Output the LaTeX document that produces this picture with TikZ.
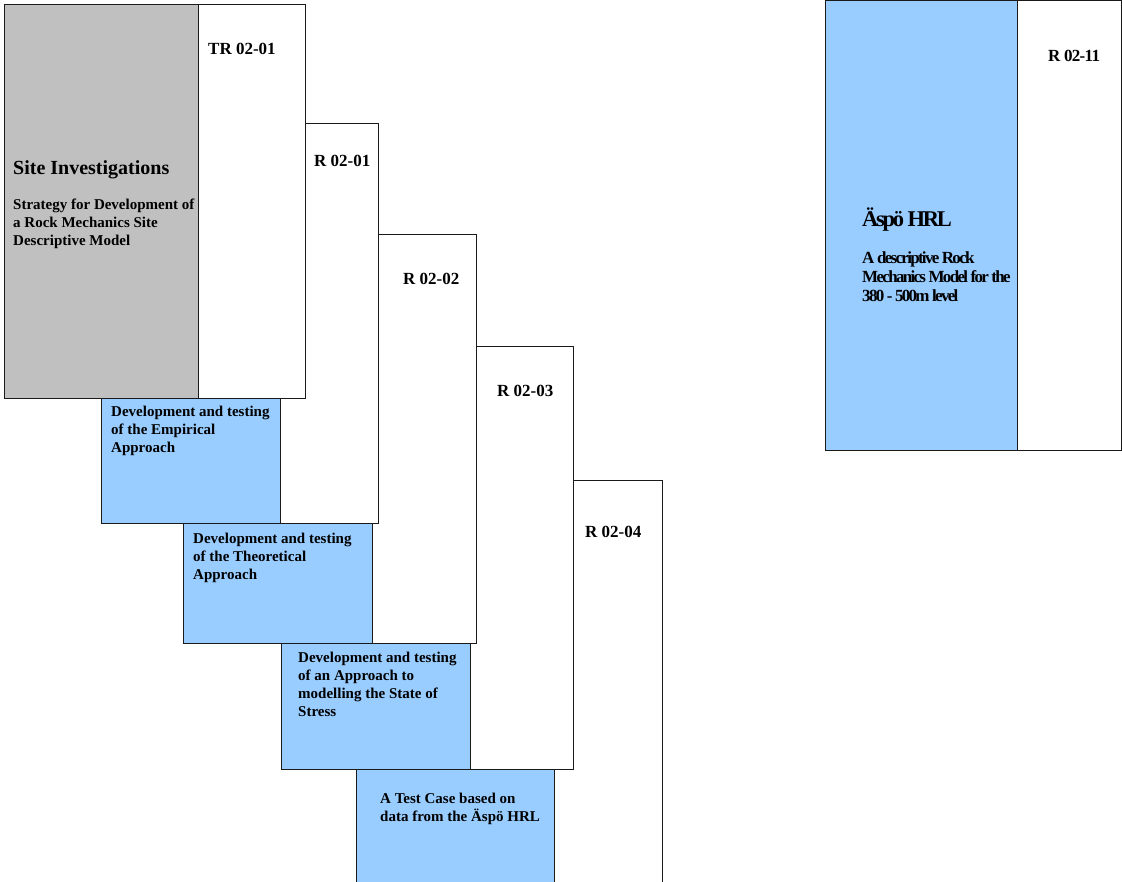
\documentclass[tikz,border=0pt]{standalone}
\usepackage{fontspec}
\setmainfont{Liberation Serif}
\newfontfamily\tightfont[LetterSpace=-10]{Liberation Serif}
\newfontfamily\semitightfont[LetterSpace=-4]{Liberation Serif}
\definecolor{paleblue}{HTML}{99CCFF}
\definecolor{boxgray}{HTML}{C0C0C0}
\definecolor{edge}{HTML}{1A1A1A}
\begin{document}
\begin{tikzpicture}[x=1pt,y=-1pt,
  panel/.style={draw=edge, line width=1pt},
  whitepanel/.style={panel, fill=white},
  bluepanel/.style={panel, fill=paleblue},
  graypanel/.style={panel, fill=boxgray},
  labeltext/.style={anchor=north west, inner sep=0pt, font=\bfseries\fontsize{17}{20}\selectfont},
  headtext/.style={anchor=north west, inner sep=0pt, font=\bfseries\fontsize{20}{24}\selectfont},
  bodytext/.style={anchor=north west, inner sep=0pt, align=left, font=\bfseries\fontsize{15}{17.8}\selectfont},
  tightlabel/.style={anchor=north west, inner sep=0pt, font=\semitightfont\bfseries\fontsize{17}{20}\selectfont},
  tighthead/.style={anchor=north west, inner sep=0pt, font=\tightfont\bfseries\fontsize{22.5}{26}\selectfont},
  tightbody/.style={anchor=north west, inner sep=0pt, align=left, font=\tightfont\bfseries\fontsize{17}{19}\selectfont},
]
\useasboundingbox (0,0) rectangle (1122,881);
\clip (0,0) rectangle (1122,881);

% report R 02-04 (rearmost)
\draw[whitepanel] (470,480.5) rectangle (662,900);
\draw[bluepanel] (356,769) rectangle (554,900);
% report R 02-03
\draw[whitepanel] (380,346.5) rectangle (573,769);
\draw[bluepanel] (281,643) rectangle (470,769);
% report R 02-02
\draw[whitepanel] (290,234) rectangle (476,643);
\draw[bluepanel] (183,523) rectangle (372,643);
% report R 02-01
\draw[whitepanel] (200,123) rectangle (378,523);
\draw[bluepanel] (101,398) rectangle (280,523);
% report TR 02-01 (front)
\draw[graypanel] (4,4) rectangle (198,398);
\draw[whitepanel] (198,4) rectangle (305,398);
% report R 02-11
\draw[bluepanel] (825,0.5) rectangle (1017,450);
\draw[whitepanel] (1017,0.5) rectangle (1121.5,450);

% report numbers
\node[labeltext] (tr) at (208,43) {TR 02-01};
\node[labeltext] (r1) at (314,155) {R 02-01};
\node[labeltext] (r2) at (403,273) {R 02-02};
\node[labeltext] (r3) at (497,385) {R 02-03};
\node[labeltext] (r4) at (585,526) {R 02-04};
\node[tightlabel] (r11) at (1048,50) {R 02-11};

% titles
\node[headtext] (site) at (13,160) {Site Investigations};
\node[bodytext] (sitebody) at (13,199) {Strategy for Development of\\a Rock Mechanics Site\\Descriptive Model};
\node[bodytext] (emp) at (111,406) {Development and testing\\of the Empirical\\Approach};
\node[bodytext] (theo) at (193,533) {Development and testing\\of the Theoretical\\Approach};
\node[bodytext] (stress) at (298,652) {Development and testing\\of an Approach to\\modelling the State of\\Stress};
\node[bodytext] (test) at (380,793) {A Test Case based on\\data from the Äspö HRL};
\node[tighthead] (aspo) at (862,208) {Äspö HRL};
\node[tightbody] (aspobody) at (862,251) {A descriptive Rock\\Mechanics Model for the\\380 - 500m level};
\end{tikzpicture}
\end{document}
